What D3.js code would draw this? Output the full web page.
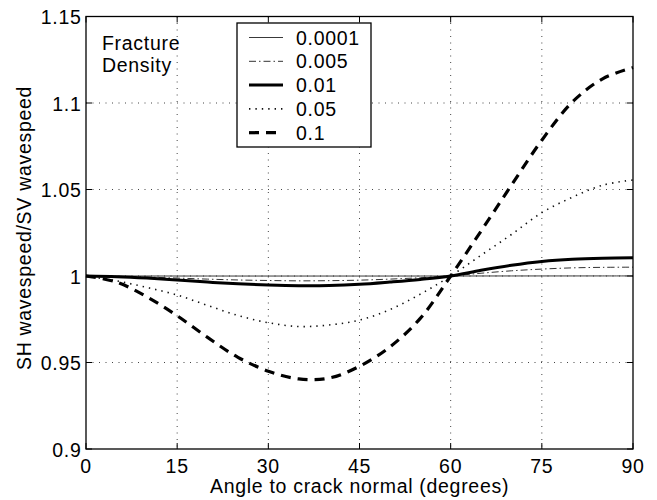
<!DOCTYPE html>
<html><head><meta charset="utf-8">
<script src="https://cdn.jsdelivr.net/npm/d3@7"></script>
<style>body{margin:0;background:#fff}svg{display:block}text{font-family:"Liberation Sans",Arial,Helvetica,sans-serif;letter-spacing:0.7px}</style>
</head><body><svg id="c" width="657" height="500"></svg>
<script>
const angles = [0,5,10,15,20,25,30,35,40,45,50,55,60,65,70,75,80,85,90];
const d0001 = [1.0000,1.0000,1.0000,0.99999,0.99999,0.99998,0.99998,0.99998,0.99998,0.99998,0.99998,0.99999,1.0000,1.00001,1.00002,1.00003,1.00003,1.00004,1.00004];
const d005  = [1.0000,0.9998,0.9994,0.9988,0.9982,0.9977,0.9974,0.9972,0.9973,0.9976,0.9982,0.9990,1.0000,1.0016,1.0030,1.0040,1.0047,1.0050,1.0051];
const d01   = [1.0000,0.9996,0.9988,0.9977,0.9965,0.9955,0.9948,0.9944,0.9945,0.9952,0.9965,0.9980,1.0000,1.0033,1.0062,1.0084,1.0097,1.0103,1.0105];
const d05   = [1.0000,0.9972,0.9934,0.9890,0.9830,0.9772,0.9730,0.9708,0.9717,0.9745,0.9806,0.9895,1.0000,1.0120,1.0240,1.0366,1.0455,1.0525,1.0555];
const d1    = [1.0000,0.9965,0.9880,0.9770,0.9645,0.9530,0.9450,0.9405,0.9410,0.9478,0.9590,0.9755,1.0000,1.0260,1.0525,1.0785,1.1005,1.1140,1.1205];
const seriesNames = ["0.0001","0.005","0.01","0.05","0.1"];
const seriesData = [d0001,d005,d01,d05,d1];
const xTicks = [0,15,30,45,60,75,90];
const yTicks = [0.9,0.95,1,1.05,1.1,1.15];
const yTickLabels = ["0.9","0.95","1","1.05","1.1","1.15"];

const styles = [
  {w:0.9, dash:null, color:"#222"},
  {w:1, dash:"7,3,1.5,3", color:"#333"},
  {w:3, dash:null, color:"#000"},
  {w:1.6, dash:"1.4,5", color:"#111"},
  {w:3.2, dash:"10,7", color:"#000"}
];

const svg = d3.select("#c");
const L=86, R=633, T=16.5, B=449;
const x = d3.scaleLinear().domain([0,90]).range([L,R]);
const y = d3.scaleLinear().domain([0.9,1.15]).range([B,T]);
const FS = 19.5;

// grid
const g = svg.append("g");
g.selectAll(".gx").data(xTicks.slice(1,-1)).join("line")
  .attr("x1",d=>x(d)).attr("x2",d=>x(d)).attr("y1",T).attr("y2",B)
  .attr("stroke","#444").attr("stroke-width",1).attr("stroke-dasharray","1,5.5");
g.selectAll(".gy").data(yTicks.slice(1,-1)).join("line")
  .attr("y1",d=>y(d)).attr("y2",d=>y(d)).attr("x1",L).attr("x2",R)
  .attr("stroke","#444").attr("stroke-width",1).attr("stroke-dasharray","1,5.5");

// curves
const line = d3.line().x((d,i)=>x(angles[i])).y(d=>y(d)).curve(d3.curveCatmullRom);
seriesData.forEach((s,i)=>{
  svg.append("path").attr("d",line(s)).attr("fill","none")
    .attr("stroke",styles[i].color).attr("stroke-width",styles[i].w)
    .attr("stroke-dasharray",styles[i].dash);
});

// frame + ticks
svg.append("rect").attr("x",L).attr("y",T).attr("width",R-L).attr("height",B-T)
  .attr("fill","none").attr("stroke","#000").attr("stroke-width",1.3);
const tk=6;
xTicks.forEach(d=>{
  svg.append("line").attr("x1",x(d)).attr("x2",x(d)).attr("y1",B).attr("y2",B-tk).attr("stroke","#000");
  svg.append("line").attr("x1",x(d)).attr("x2",x(d)).attr("y1",T).attr("y2",T+tk).attr("stroke","#000");
});
yTicks.forEach(d=>{
  svg.append("line").attr("y1",y(d)).attr("y2",y(d)).attr("x1",L).attr("x2",L+tk).attr("stroke","#000");
  svg.append("line").attr("y1",y(d)).attr("y2",y(d)).attr("x1",R).attr("x2",R-tk).attr("stroke","#000");
});
svg.selectAll(".xl").data(xTicks).join("text")
  .attr("x",d=>x(d)).attr("y",B+24).attr("text-anchor","middle").attr("font-size",FS).text(d=>d);
svg.selectAll(".yl").data(yTicks).join("text")
  .attr("x",L-4.5).attr("y",d=>y(d)+7.5).attr("text-anchor","end").attr("font-size",FS).text((d,i)=>yTickLabels[i]);

svg.append("text").attr("x",(L+R)/2).attr("y",493).attr("text-anchor","middle").attr("font-size",FS)
  .text("Angle to crack normal (degrees)");
svg.append("text").attr("transform",`translate(30.5,228) rotate(-90)`).attr("text-anchor","middle").attr("font-size",FS)
  .text("SH wavespeed/SV wavespeed");

svg.append("text").attr("x",102).attr("y",50).attr("font-size",FS).text("Fracture");
svg.append("text").attr("x",102).attr("y",72).attr("font-size",FS).text("Density");

// legend
const lg = svg.append("g");
lg.append("rect").attr("x",237).attr("y",23).attr("width",134).attr("height",124)
  .attr("fill","#fff").attr("stroke","#000").attr("stroke-width",1.3);
seriesNames.forEach((n,i)=>{
  const cy = 37.5 + i*23.8;
  lg.append("line").attr("x1",249).attr("x2",283).attr("y1",cy).attr("y2",cy)
    .attr("stroke",styles[i].color).attr("stroke-width",styles[i].w).attr("stroke-dasharray",styles[i].dash);
  lg.append("text").attr("x",296).attr("y",cy+7).attr("font-size",FS).text(n);
});
</script></body></html>
